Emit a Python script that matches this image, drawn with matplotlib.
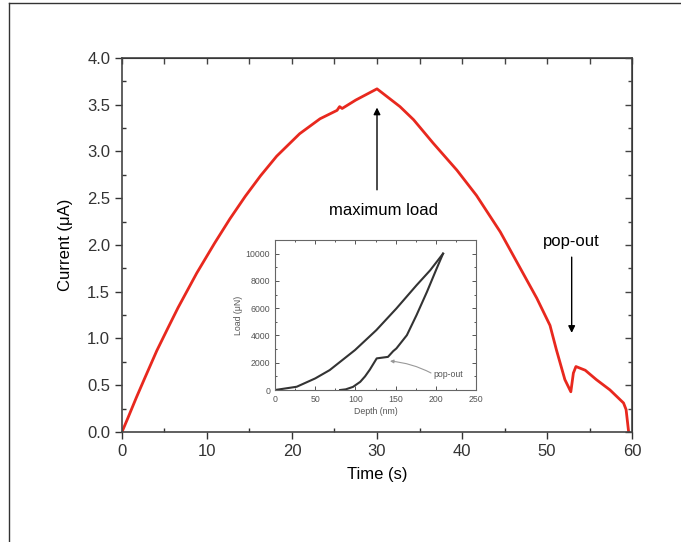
import matplotlib
matplotlib.use('Agg')
import matplotlib.pyplot as plt
from matplotlib.lines import Line2D
from matplotlib.ticker import MultipleLocator

plt.rcParams['font.family'] = ['Liberation Sans', 'DejaVu Sans']

# curva principal: corrente x tempo
tempo = [0, 0.7, 1.7, 2.7, 4.1, 5.45, 6.6, 8.8, 10.9, 12.7, 14.5, 16.3, 18.2,
         20.9, 23.3, 25.3, 25.6, 25.9, 27.5, 30.0, 32.7, 34.3, 36.6, 39.4,
         41.7, 44.5, 46.8, 48.8, 50.35, 51.1, 52.1, 52.8, 53.1, 53.4, 54.5,
         55.8, 57.4, 59.0, 59.3, 59.6]
corrente = [0, 0.15, 0.37, 0.58, 0.87, 1.12, 1.33, 1.70, 2.02, 2.28, 2.52, 2.74,
            2.95, 3.19, 3.35, 3.44, 3.48, 3.46, 3.55, 3.67, 3.48, 3.34, 3.09,
            2.80, 2.53, 2.14, 1.76, 1.43, 1.14, 0.88, 0.56, 0.43, 0.63, 0.70,
            0.66, 0.56, 0.45, 0.31, 0.24, 0.0]

# inset: carga x profundidade
prof_carga = [0, 27, 50, 68, 99.5, 126, 151, 176, 193, 209]
carga = [0, 240, 850, 1460, 2930, 4390, 5980, 7680, 8780, 10000]
prof_descarga = [209, 201, 189, 176, 164, 151, 147, 140.5, 126.5, 118, 112, 106, 97, 88, 81]
descarga = [10000, 8900, 7200, 5490, 4020, 3050, 2850, 2430, 2320, 1500, 1000, 600, 230, 50, 0]

fig = plt.figure(figsize=(6.81, 5.42), dpi=100)
ax = fig.add_axes([0.1791, 0.2030, 0.749, 0.690])
ax.plot(tempo, corrente, color='#e8281e', lw=2.0)
ax.set_xlim(0, 60)
ax.set_ylim(0, 4.0)
ax.xaxis.set_major_locator(MultipleLocator(10))
ax.xaxis.set_minor_locator(MultipleLocator(5))
ax.yaxis.set_major_locator(MultipleLocator(0.5))
ax.yaxis.set_minor_locator(MultipleLocator(0.25))
ax.yaxis.set_major_formatter(lambda v, p: f'{v:.1f}')
ax.tick_params(which='major', direction='out', length=5, width=1, labelsize=12, colors='#333333')
ax.tick_params(which='minor', direction='in', length=3, width=1, colors='#333333')
for s in ax.spines.values():
    s.set_color('#444444')
    s.set_linewidth(1.2)

sx = ax.secondary_xaxis('top')
sx.xaxis.set_major_locator(MultipleLocator(5))
sx.tick_params(direction='in', length=4, width=1, labeltop=False, colors='#444444')
sy = ax.secondary_yaxis('right')
sy.yaxis.set_major_locator(MultipleLocator(0.5))
sy.yaxis.set_minor_locator(MultipleLocator(0.25))
sy.tick_params(which='major', direction='in', length=5, width=1, labelright=False, colors='#444444')
sy.tick_params(which='minor', direction='in', length=3, width=1, colors='#444444')

ax.set_xlabel('Time (s)', fontsize=12, labelpad=6)
ax.set_ylabel('Current (μA)', fontsize=12, labelpad=10)

seta = dict(arrowstyle='-|>', color='black', lw=1.0, mutation_scale=10, shrinkA=0, shrinkB=0)
ax.annotate('', xy=(30, 3.47), xytext=(30, 2.59), arrowprops=seta)
ax.text(30.8, 2.37, 'maximum load', ha='center', va='center', fontsize=12)
ax.annotate('', xy=(52.9, 1.06), xytext=(52.9, 1.87), arrowprops=seta)
ax.text(52.8, 2.04, 'pop-out', ha='center', va='center', fontsize=12)

# inset
ins = fig.add_axes([0.4038, 0.2804, 0.2952, 0.2768])
ins.plot(prof_carga, carga, color='#333333', lw=1.5)
ins.plot(prof_descarga, descarga, color='#333333', lw=1.5)
ins.set_xlim(0, 250)
ins.set_ylim(0, 11000)
ins.xaxis.set_major_locator(MultipleLocator(50))
ins.xaxis.set_minor_locator(MultipleLocator(25))
ins.yaxis.set_major_locator(MultipleLocator(2000))
ins.yaxis.set_minor_locator(MultipleLocator(1000))
ins.tick_params(which='both', direction='in', top=True, right=True, labelsize=6.3,
                colors='#555555', width=0.7)
ins.tick_params(which='major', length=3)
ins.tick_params(which='minor', length=1.5)
for s in ins.spines.values():
    s.set_color('#666666')
    s.set_linewidth(0.8)
ins.set_xlabel('Depth (nm)', fontsize=6.3, color='#555555', labelpad=2)
ins.set_ylabel('Load (μN)', fontsize=6.3, color='#555555', labelpad=2)
ins.annotate('', xy=(143, 2120), xytext=(194, 1250),
             arrowprops=dict(arrowstyle='-|>', color='#999999', lw=0.8, mutation_scale=5,
                             shrinkA=0, shrinkB=0, connectionstyle='arc3,rad=0.1'))
ins.text(216, 1150, 'pop-out', ha='center', va='center', fontsize=6.3, color='#555555')

# moldura da figura
fig.add_artist(Line2D([9/681, 9/681], [0, 1 - 3/542], transform=fig.transFigure,
                      color='#333333', lw=1))
fig.add_artist(Line2D([9/681, 1], [1 - 3/542, 1 - 3/542], transform=fig.transFigure,
                      color='#333333', lw=1))

fig.savefig('out.png', dpi=100)
